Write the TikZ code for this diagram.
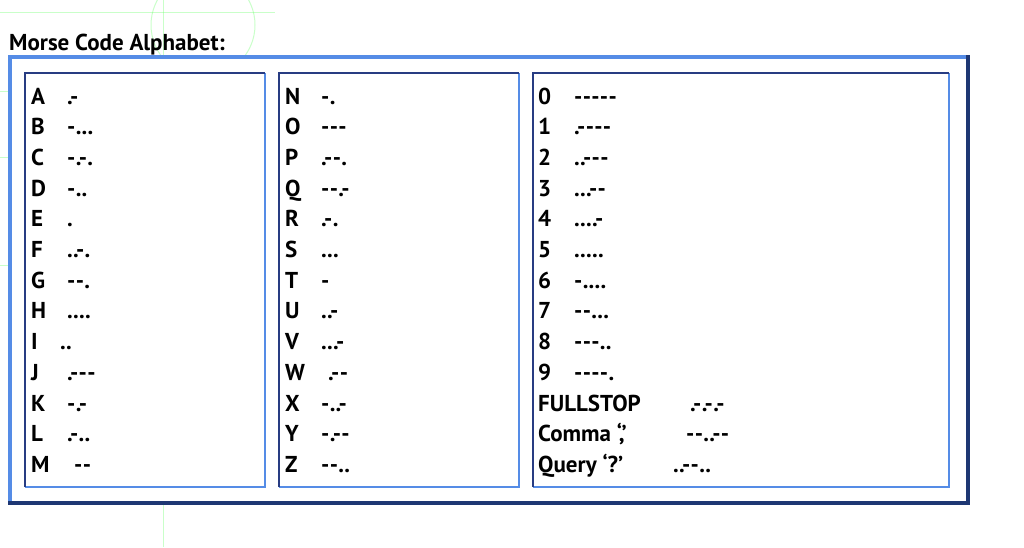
\documentclass[tikz,border=0pt]{standalone}
\usepackage{fontspec}
\setmainfont{PT Sans}
\newcommand\q{-\kern0.3pt}
\newcommand\mrow[6]{%
  \node[txt] (#1) at (#3,{104+30.7*#5}) {#2};
  \node[txt] (#1c) at (#4,{104+30.7*#5}) {#6};}
\begin{document}
\begin{tikzpicture}[x=1pt,y=-1pt,
  txt/.style={anchor=base west,inner sep=0pt,font=\fontsize{23}{23}\selectfont\bfseries},
  deco/.style={draw=green!60!white,opacity=0.35,line width=1pt}]
\useasboundingbox (0,0) rectangle (1024,547);
\fill[white] (0,0) rectangle (1024,547);
\definecolor{lb}{RGB}{85,140,230}
\definecolor{db}{RGB}{30,55,115}
\definecolor{ib}{RGB}{40,60,130}
% faint decorations
\draw[deco] (203,25) circle (52);
\draw[deco] (0,12) -- (275,12);
\draw[deco] (0,91) -- (363,91);
\draw[deco] (163,0) -- (163,80);
\draw[deco] (0,157) -- (380,157);
\draw[deco] (133,142) -- (133,300);
\draw[deco] (120,250) circle (60);
\draw[deco] (0,265) -- (250,265);
\draw[deco] (163,300) -- (163,547);
\draw[deco] (315,400) circle (60);
\draw[deco] (180,465) -- (400,465);
% title
\node[txt] (title) at (9,50) {Morse Code Alphabet:};
% outer frame
\fill[white] (8,55) rectangle (970,505);
\draw[line width=4pt,draw=lb] (10,503) -- (10,57) -- (968,57);
\draw[line width=4pt,draw=db] (8,503) -- (968,503) -- (968,55);
% inner boxes
\draw[draw=lb,line width=1.2pt] (25,487) -- (265,487) -- (265,73);
\draw[draw=ib,line width=1.2pt] (25,487) -- (25,73) -- (265,73);
\draw[draw=lb,line width=1.2pt] (279,487) -- (519,487) -- (519,73);
\draw[draw=ib,line width=1.2pt] (279,487) -- (279,73) -- (519,73);
\draw[draw=lb,line width=1.2pt] (533,487) -- (949,487) -- (949,73);
\draw[draw=ib,line width=1.2pt] (533,487) -- (533,73) -- (949,73);
% left column
\mrow{lA}{A}{31}{67}{0}{.\q}
\mrow{lB}{B}{31}{67}{1}{\q...}
\mrow{lC}{C}{31}{67}{2}{\q.\q.}
\mrow{lD}{D}{31}{67}{3}{\q..}
\mrow{lE}{E}{31}{67}{4}{.}
\mrow{lF}{F}{31}{67}{5}{..\q.}
\mrow{lG}{G}{31}{67}{6}{\q\q.}
\mrow{lH}{H}{31}{67}{7}{....}
\mrow{lI}{I}{31}{60}{8}{..}
\mrow{lJ}{J}{31}{67}{9}{.\q\q\q}
\mrow{lK}{K}{31}{67}{10}{\q.\q}
\mrow{lL}{L}{31}{67}{11}{.\q..}
\mrow{lM}{M}{31}{74}{12}{\q\q}
% middle column
\mrow{lN}{N}{285}{321}{0}{\q.}
\mrow{lO}{O}{285}{321}{1}{\q\q\q}
\mrow{lP}{P}{285}{321}{2}{.\q\q.}
\mrow{lQ}{Q}{285}{321}{3}{\q\q.\q}
\mrow{lR}{R}{285}{321}{4}{.\q.}
\mrow{lS}{S}{285}{321}{5}{...}
\mrow{lT}{T}{285}{321}{6}{\q}
\mrow{lU}{U}{285}{321}{7}{..\q}
\mrow{lV}{V}{285}{321}{8}{...\q}
\mrow{lW}{W}{285}{328}{9}{.\q\q}
\mrow{lX}{X}{285}{321}{10}{\q..\q}
\mrow{lY}{Y}{285}{321}{11}{\q.\q\q}
\mrow{lZ}{Z}{285}{321}{12}{\q\q..}
% right column
\mrow{d0}{0}{538}{574}{0}{\q\q\q\q\q}
\mrow{d1}{1}{538}{574}{1}{.\q\q\q\q}
\mrow{d2}{2}{538}{574}{2}{..\q\q\q}
\mrow{d3}{3}{538}{574}{3}{...\q\q}
\mrow{d4}{4}{538}{574}{4}{....\q}
\mrow{d5}{5}{538}{574}{5}{.....}
\mrow{d6}{6}{538}{574}{6}{\q....}
\mrow{d7}{7}{538}{574}{7}{\q\q...}
\mrow{d8}{8}{538}{574}{8}{\q\q\q..}
\mrow{d9}{9}{538}{574}{9}{\q\q\q\q.}
\mrow{fs}{FULLSTOP}{538}{690}{10}{.\q.\q.\q}
\mrow{cm}{Comma ‘,’}{538}{686}{11}{\q\q..\q\q}
\mrow{qu}{Query ‘?’}{538}{673}{12}{..\q\q..}
\end{tikzpicture}
\end{document}
